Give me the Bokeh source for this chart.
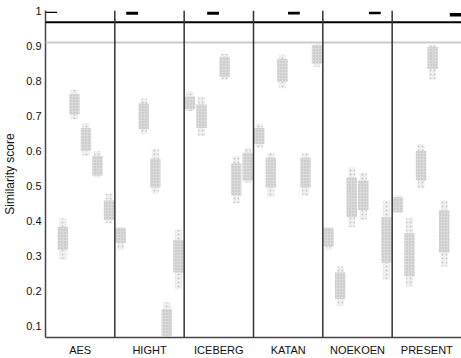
from bokeh.plotting import figure
from bokeh.models import (FixedTicker, CustomJSTickFormatter, Range1d, Span,
                          ColumnDataSource)
from bokeh.embed import file_html
from bokeh.resources import INLINE

# ---- data ----
ciphers = ["AES", "HIGHT", "ICEBERG", "KATAN", "NOEKOEN", "PRESENT"]

# per panel (target cipher), per compared cipher (same order); self-match is None
tail_low = [
    [None, 0.290, 0.691, 0.586, 0.524, 0.394],
    [0.318, None, 0.649, 0.479, 0.064, 0.205],
    [0.714, 0.643, None, 0.804, 0.451, 0.510],
    [0.609, 0.468, 0.779, None, 0.473, 0.841],
    [0.318, 0.157, 0.383, 0.403, None, 0.233],
    [0.423, 0.214, 0.493, 0.804, 0.270, None],
]
core_low = [
    [None, 0.318, 0.705, 0.600, 0.530, 0.403],
    [0.338, None, 0.663, 0.496, 0.072, 0.253],
    [0.719, 0.666, None, 0.812, 0.473, 0.516],
    [0.620, 0.496, 0.798, None, 0.496, 0.849],
    [0.327, 0.177, 0.411, 0.431, None, 0.281],
    [0.425, 0.242, 0.516, 0.835, 0.310, None],
]
core_high = [
    [None, 0.383, 0.762, 0.666, 0.586, 0.459],
    [0.380, None, 0.736, 0.578, 0.149, 0.346],
    [0.756, 0.733, None, 0.869, 0.564, 0.595],
    [0.666, 0.581, 0.863, None, 0.581, 0.903],
    [0.380, 0.253, 0.524, 0.516, None, 0.411],
    [0.468, 0.366, 0.600, 0.897, 0.431, None],
]
tail_high = [
    [None, 0.408, 0.776, 0.680, 0.600, 0.479],
    [0.383, None, 0.750, 0.606, 0.168, 0.375],
    [0.770, 0.756, None, 0.877, 0.586, 0.609],
    [0.677, 0.595, 0.875, None, 0.595, 0.906],
    [0.383, 0.270, 0.553, 0.538, None, 0.459],
    [0.473, 0.408, 0.620, 0.903, 0.459, None],
]
# self-match similarity (black marks near 1)
self_low = [0.994, 0.989, 0.989, 0.990, 0.991, 0.984]
self_high = [0.998, 0.998, 0.998, 0.998, 0.998, 0.994]

threshold_high = 0.968
threshold_low = 0.91
y_ticks = [0.1, 0.2, 0.3, 0.4, 0.5, 0.6, 0.7, 0.8, 0.9, 1.0]

# ---- build sources ----
n = len(ciphers)
core = dict(l=[], r=[], b=[], t=[])
tail = dict(l=[], r=[], b=[], t=[])
selfm = dict(l=[], r=[], b=[], t=[])
for i in range(n):
    for j in range(n):
        xc = i + (j + 0.5) / n
        if i == j:
            selfm["l"].append(xc - 0.085); selfm["r"].append(xc + 0.085)
            selfm["b"].append(self_low[i]); selfm["t"].append(self_high[i])
            continue
        core["l"].append(xc - 0.075); core["r"].append(xc + 0.075)
        core["b"].append(core_low[i][j]); core["t"].append(core_high[i][j])
        tail["l"].append(xc - 0.05); tail["r"].append(xc + 0.05)
        tail["b"].append(tail_low[i][j]); tail["t"].append(tail_high[i][j])

p = figure(width=461, height=358, output_backend="svg", toolbar_location=None,
           x_range=Range1d(0, n), y_range=Range1d(0.0673, 1.0014),
           min_border_left=44, min_border_right=0, min_border_top=10,
           min_border_bottom=19)
p.outline_line_color = None
p.xgrid.visible = False
p.ygrid.visible = False

p.quad(left="l", right="r", bottom="b", top="t", source=ColumnDataSource(tail),
       fill_color="#f0f0f0", line_color=None,
       hatch_pattern="dot", hatch_color="#c8c8c8", hatch_scale=4, hatch_weight=1)
p.quad(left="l", right="r", bottom="b", top="t", source=ColumnDataSource(core),
       fill_color="#dadada", line_color=None,
       hatch_pattern="dot", hatch_color="#b8b8b8", hatch_scale=3, hatch_weight=1)
p.quad(left="l", right="r", bottom="b", top="t", source=ColumnDataSource(selfm),
       fill_color="black", line_color=None)

p.add_layout(Span(location=threshold_low, dimension="width",
                  line_color="#cccccc", line_width=2))
p.add_layout(Span(location=threshold_high, dimension="width",
                  line_color="black", line_width=2))
for i in range(1, n):
    p.add_layout(Span(location=i, dimension="height",
                      line_color="#333333", line_width=1.5))

# axes
p.xaxis.ticker = FixedTicker(ticks=[i + 0.5 for i in range(n)])
p.xaxis.major_label_overrides = {i + 0.5: c for i, c in enumerate(ciphers)}
p.yaxis.ticker = FixedTicker(ticks=y_ticks)
p.yaxis.formatter = CustomJSTickFormatter(
    code="return Math.abs(tick - 1) < 1e-9 ? '1' : tick.toFixed(1);")
p.yaxis.axis_label = "Similarity score"

for ax in (p.xaxis[0], p.yaxis[0]):
    ax.major_tick_out = 0
    ax.major_tick_in = 0
    ax.minor_tick_out = 0
    ax.minor_tick_in = 0
    ax.axis_line_color = "#444444"
    ax.axis_line_width = 1.5
    ax.major_label_text_font = "Liberation Sans"
    ax.major_label_text_font_size = "11px"
    ax.major_label_text_color = "#111111"

p.xaxis.major_label_standoff = 6
p.yaxis.major_label_standoff = 4
p.yaxis.axis_label_standoff = 6
p.yaxis.axis_label_text_font = "Liberation Sans"
p.yaxis.axis_label_text_font_size = "12px"
p.yaxis.axis_label_text_font_style = "normal"
p.yaxis.axis_label_text_color = "#111111"

open("out.html", "w").write(file_html(p, INLINE))
